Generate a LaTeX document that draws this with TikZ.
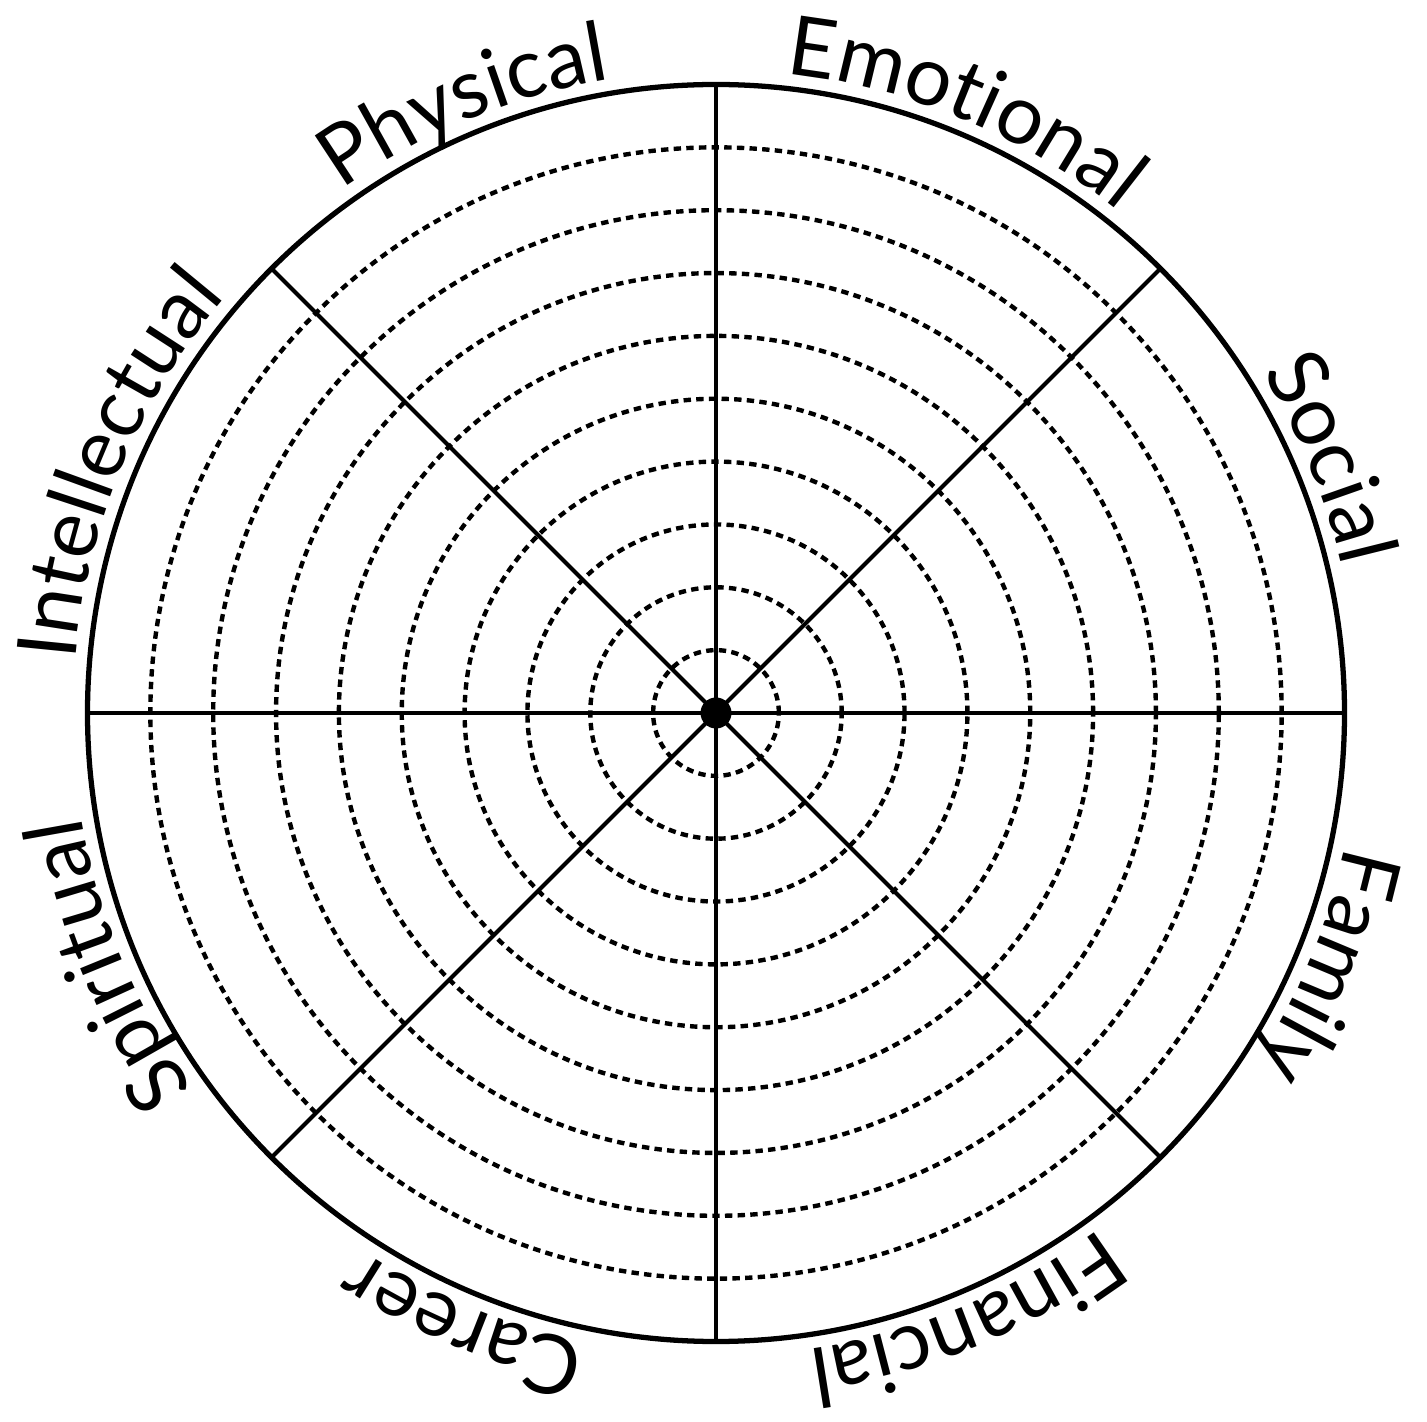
\documentclass[tikz,border=0pt]{standalone}
\usepackage{fontspec}
\setmainfont{Lato}
\usetikzlibrary{decorations.text}

\newfontfamily\wheelfont{Lato}

\begin{document}
\begin{tikzpicture}[
  rim/.style={line width=1.5pt},
  spoke/.style={line width=1.2pt},
  ring/.style={line width=1.25pt, dash pattern=on 2.1pt off 1.5pt},
  lbl/.style={decorate, decoration={text along path, text align=center}}]

\useasboundingbox (-7.16,-7.08) rectangle (7.11,7.13);

% dotted rings
\foreach \i in {1,...,9}
  \draw[ring] (0,0) circle[radius=\i*0.6285];

% spokes
\foreach \a in {0,45,...,315}
  \draw[spoke] (0,0) -- (\a:6.285);

\draw[rim] (0,0) circle[radius=6.285];
\fill (0,0) circle[radius=0.155];

% labels, clockwise along the rim
\path[lbl, decoration={text={|\wheelfont\fontsize{23.5}{24}\selectfont|Emotional}}]
  (90:6.43) arc[start angle=90, end angle=45, radius=6.43];
\path[lbl, decoration={text={|\wheelfont\fontsize{23.5}{24}\selectfont|Social}}]
  (45:6.43) arc[start angle=45, end angle=0, radius=6.43];
\path[lbl, decoration={text={|\wheelfont\fontsize{23.5}{24}\selectfont|Family}}]
  (0:6.43) arc[start angle=0, end angle=-45, radius=6.43];
\path[lbl, decoration={text={|\wheelfont\fontsize{23.5}{24}\selectfont|Financial}}]
  (-45:6.43) arc[start angle=-45, end angle=-90, radius=6.43];
\path[lbl, decoration={text={|\wheelfont\fontsize{23.5}{24}\selectfont|Career}}]
  (-90:6.43) arc[start angle=-90, end angle=-135, radius=6.43];
\path[lbl, decoration={text={|\wheelfont\fontsize{23.5}{24}\selectfont|Spiritual}}]
  (-135:6.43) arc[start angle=-135, end angle=-180, radius=6.43];
\path[lbl, decoration={text={|\wheelfont\fontsize{23.5}{24}\selectfont|Intellectual}}]
  (180:6.43) arc[start angle=180, end angle=135, radius=6.43];
\path[lbl, decoration={text={|\wheelfont\fontsize{23.5}{24}\selectfont|Physical}}]
  (135:6.43) arc[start angle=135, end angle=90, radius=6.43];

\end{tikzpicture}
\end{document}
